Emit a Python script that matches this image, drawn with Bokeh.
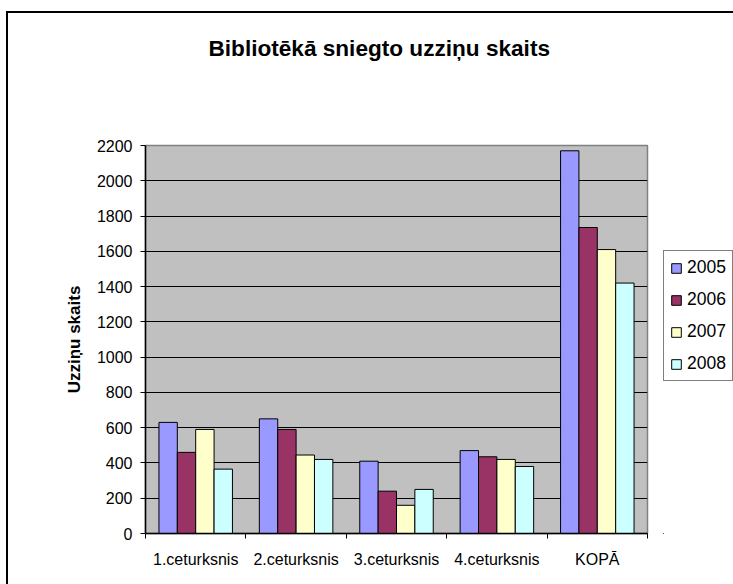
from bokeh.plotting import figure
from bokeh.layouts import row
from bokeh.models import FixedTicker, Legend, LegendItem, Title, Range1d
from bokeh.embed import file_html
from bokeh.resources import INLINE

categories = ["1.ceturksnis", "2.ceturksnis", "3.ceturksnis", "4.ceturksnis", "KOPĀ"]
years = ["2005", "2006", "2007", "2008"]
v2005 = [630, 650, 410, 470, 2170]
v2006 = [460, 590, 240, 435, 1735]
v2007 = [590, 445, 160, 420, 1610]
v2008 = [365, 420, 250, 380, 1420]
series = [v2005, v2006, v2007, v2008]
colors = ["#9999FF", "#993366", "#FFFFCC", "#CCFFFF"]
y_ticks = list(range(0, 2201, 200))

FONT = "Liberation Sans"
n = len(categories)
bar_w = 0.183

p = figure(frame_width=502, frame_height=388, x_range=Range1d(-0.5, n - 0.5), y_range=Range1d(0, 2200),
           output_backend="svg", toolbar_location=None,
           min_border_left=137, min_border_right=16, min_border_top=132, min_border_bottom=51)
p.background_fill_color = "#C0C0C0"
p.border_fill_color = "white"
p.outline_line_color = "#808080"
p.outline_line_width = 1.5

for j, vals in enumerate(series):
    off = (j - 1.5) * bar_w
    xs = [i + off for i in range(n)]
    p.vbar(x=xs, top=vals, width=bar_w, fill_color=colors[j], line_color="black", line_width=1)

# grid
p.xgrid.visible = False
p.ygrid.ticker = FixedTicker(ticks=y_ticks)
p.ygrid.grid_line_color = "black"
p.ygrid.grid_line_width = 1

# x axis: labels at category centres, tick marks between categories
xa = p.xaxis[0]
xa.ticker = FixedTicker(ticks=list(range(n)), minor_ticks=[i - 0.5 for i in range(n + 1)])
xa.major_label_overrides = {i: c for i, c in enumerate(categories)}
xa.major_tick_out = 0
xa.major_tick_in = 0
xa.minor_tick_out = 5
xa.minor_tick_in = 0
xa.minor_tick_line_color = "black"
xa.axis_line_color = "black"
xa.axis_line_width = 1.5
xa.major_label_text_font = FONT
xa.major_label_text_font_size = "16px"
xa.major_label_text_color = "black"
xa.major_label_standoff = 12

# y axis
ya = p.yaxis[0]
ya.ticker = FixedTicker(ticks=y_ticks)
ya.major_tick_out = 5
ya.major_tick_in = 0
ya.minor_tick_out = 0
ya.major_tick_line_color = "black"
ya.axis_line_color = "black"
ya.axis_line_width = 1.5
ya.major_label_text_font = FONT
ya.major_label_text_font_size = "16px"
ya.major_label_text_color = "black"
ya.major_label_standoff = 8
ya.axis_label = "Uzziņu skaits"
ya.axis_label_text_font = FONT
ya.axis_label_text_font_size = "17px"
ya.axis_label_text_font_style = "bold"
ya.axis_label_text_color = "black"
ya.axis_label_standoff = 10

# spacer between frame and title (nearest to frame), then the title
p.add_layout(Title(text=" ", text_font_size="10px", standoff=72), "above")
title = Title(text="Bibliotēkā sniegto uzziņu skaits", align="left", offset=63,
              text_font=FONT, text_font_size="22.6px", text_font_style="bold",
              text_color="black", standoff=0)
p.add_layout(title, "above")

# legend panel: a second figure to the right (key proxies lie outside its visible range)
pl = figure(width=70, height=571, x_range=Range1d(0, 1), y_range=Range1d(0, 1),
            x_axis_location=None, y_axis_location=None,
            output_backend="svg", toolbar_location=None, min_border=0)
pl.grid.visible = False
pl.outline_line_color = None
pl.background_fill_color = "white"
pl.border_fill_color = "white"
key_renderers = [pl.vbar(x=[-5], top=[-5], bottom=[-6], width=0.1, fill_color=c,
                         line_color="black", line_width=1)
                 for c in colors]
legend = Legend(items=[LegendItem(label=y, renderers=[r]) for y, r in zip(years, key_renderers)],
                location=(0, 152), border_line_color="black", border_line_width=1,
                background_fill_color="white", background_fill_alpha=1,
                padding=6, spacing=11, glyph_width=12, glyph_height=12,
                label_standoff=5, label_text_font=FONT, label_text_font_size="17.5px",
                label_text_color="black", label_height=20, margin=0)
pl.add_layout(legend)

layout = row(p, pl, styles={"margin-left": "6px", "margin-top": "11px",
                            "border-left": "2px solid black", "border-top": "2px solid black"})

open("out.html", "w").write(file_html(layout, INLINE))
